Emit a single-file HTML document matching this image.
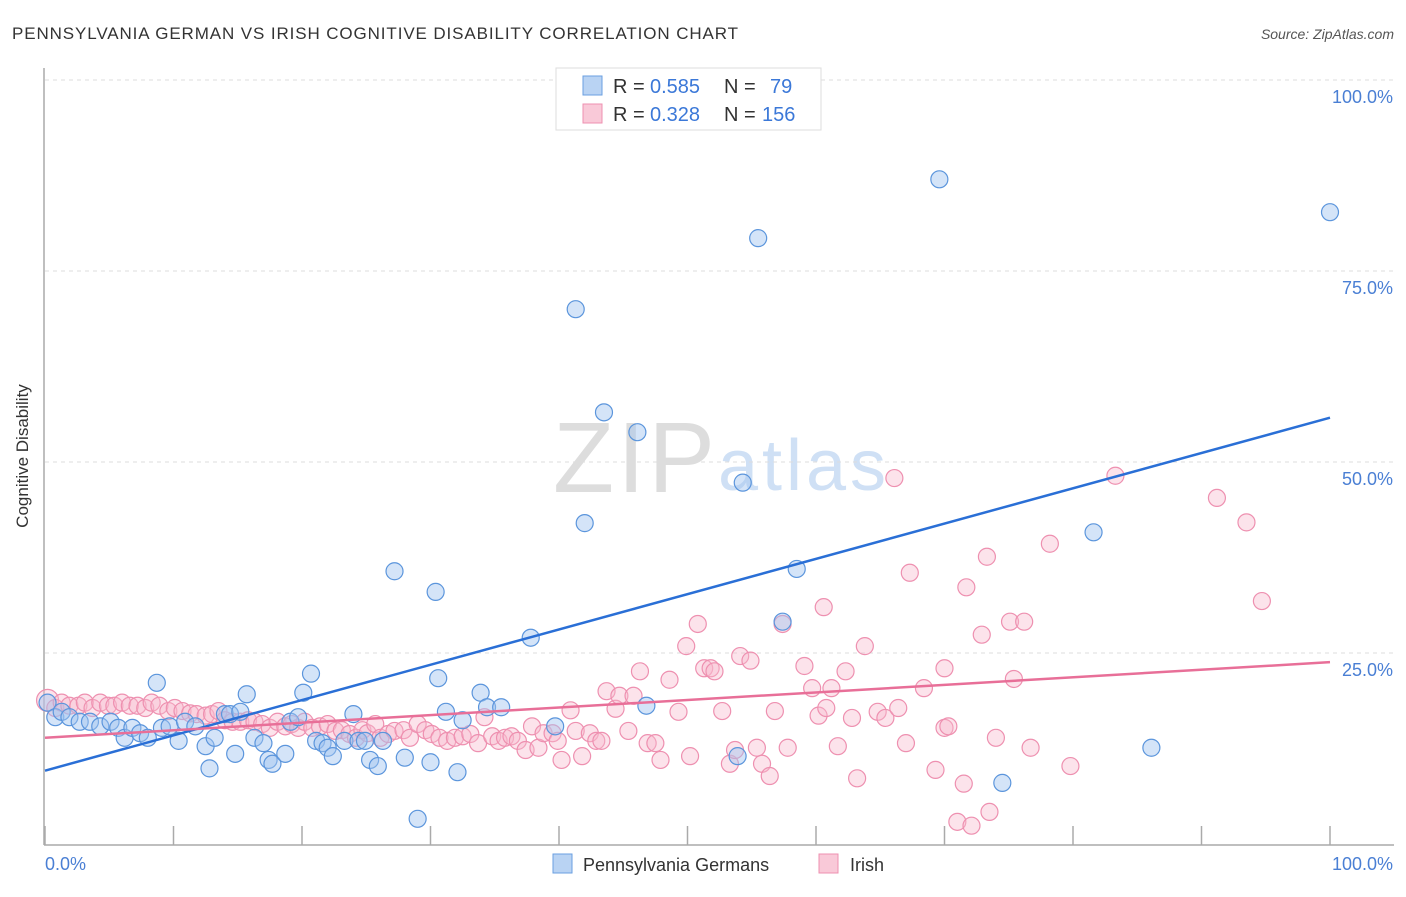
<!DOCTYPE html>
<html><head><meta charset="utf-8"><style>
body{margin:0;background:#fff;font-family:"Liberation Sans",sans-serif}
svg text{font-family:"Liberation Sans",sans-serif}
</style></head><body>
<svg width="1406" height="892" xmlns="http://www.w3.org/2000/svg">
<text x="12" y="39" font-size="17" fill="#333" textLength="726">PENNSYLVANIA GERMAN VS IRISH COGNITIVE DISABILITY CORRELATION CHART</text>
<text x="1394" y="39" font-size="14" fill="#555" font-style="italic" text-anchor="end">Source: ZipAtlas.com</text>
<text x="553" y="492" font-size="100" fill="#ddd" font-family="Liberation Serif" textLength="162">ZIP</text>
<text x="718" y="490" font-size="72" fill="#cfe0f5" textLength="168">atlas</text>
<g id="grid"></g>
<line x1="44" y1="68" x2="44" y2="845" stroke="#aaa" stroke-width="1.5"/>
<line x1="44" y1="845" x2="1394" y2="845" stroke="#aaa" stroke-width="1.5"/>
<g id="ticks"></g>
<text x="28" y="456" font-size="17" fill="#333" text-anchor="middle" transform="rotate(-90 28 456)">Cognitive Disability</text>
<g id="pts"></g>
<g id="lines"></g>
<text x="45" y="870" font-size="18" fill="#4a7fd4">0.0%</text>
<text x="1393" y="870" font-size="18" fill="#4a7fd4" text-anchor="end">100.0%</text>
<g>
<rect x="556" y="68" width="265" height="62" fill="#fff" stroke="#ddd"/>
<rect x="583" y="76" width="19" height="19" fill="#b9d3f3" stroke="#6a9fe0"/>
<rect x="583" y="104" width="19" height="19" fill="#f9c9d8" stroke="#ee90b0"/>
<text x="613" y="93" font-size="20" fill="#333">R = <tspan x="650" fill="#3b78d8">0.585</tspan><tspan x="724">N = </tspan><tspan x="770" fill="#3b78d8">79</tspan></text>
<text x="613" y="121" font-size="20" fill="#333">R = <tspan x="650" fill="#3b78d8">0.328</tspan><tspan x="724">N = </tspan><tspan x="762" fill="#3b78d8">156</tspan></text>
</g>
<g>
<rect x="553" y="854" width="19" height="19" fill="#b9d3f3" stroke="#6a9fe0"/>
<text x="583" y="871" font-size="18" fill="#333">Pennsylvania Germans</text>
<rect x="819" y="854" width="19" height="19" fill="#f9c9d8" stroke="#ee90b0"/>
<text x="850" y="871" font-size="18" fill="#333">Irish</text>
</g>
</svg>
<script>
const yTicks=[25,50,75,100];
const yTickLabels=["25.0%","50.0%","75.0%","100.0%"];
const xTicks=[0,10,20,30,40,50,60,70,80,90,100];
const blueX=[0.2,0.8,1.3,1.9,2.7,3.5,4.3,5.1,5.7,6.2,6.8,7.4,8.0,8.7,9.1,9.7,10.4,10.9,11.7,12.5,12.8,13.2,14.0,14.4,14.8,15.2,15.7,16.3,17.0,17.4,17.7,18.7,19.1,19.7,20.1,20.7,21.1,21.6,22.0,22.4,23.3,24.0,24.4,24.9,25.3,25.9,26.3,27.2,28.0,29.0,30.0,30.4,30.6,31.2,32.1,32.5,33.9,34.4,35.5,37.8,39.7,41.3,42.0,43.5,46.1,46.8,53.9,54.3,55.5,57.4,58.5,69.6,74.5,81.6,86.1,100];
const blueY=[18.5,16.6,17.3,16.6,16.0,16.0,15.4,16.0,15.2,13.9,15.2,14.5,13.9,21.1,15.2,15.4,13.5,16.0,15.4,12.8,9.9,13.9,17.0,17.0,11.8,17.3,19.6,13.9,13.2,11.0,10.5,11.8,16.0,16.6,19.8,22.3,13.5,13.2,12.6,11.5,13.5,17.0,13.5,13.5,11.0,10.2,13.5,35.7,11.3,3.3,10.7,33.0,21.7,17.3,9.4,16.2,19.8,17.9,17.9,27.0,15.4,70.0,42.0,56.5,53.9,18.1,11.5,47.3,79.3,29.1,36.0,87.0,8.0,40.8,12.6,82.7];
const pinkX=[0.2,0.8,1.3,1.9,2.6,3.1,3.7,4.3,4.9,5.4,6.0,6.6,7.2,7.8,8.3,8.9,9.6,10.1,10.7,11.3,11.8,12.5,13.0,13.5,14.0,14.6,15.2,15.8,16.3,16.9,17.5,18.1,18.7,19.2,19.7,20.2,20.8,21.4,22.0,22.6,23.1,23.7,24.2,24.7,25.1,25.7,26.1,26.7,27.2,27.9,28.4,29.0,29.6,30.1,30.7,31.3,31.9,32.5,33.1,33.7,34.2,34.8,35.3,35.8,36.3,36.8,37.4,37.9,38.4,38.8,39.5,39.9,40.2,40.9,41.3,41.8,42.4,42.9,43.3,43.7,44.4,44.7,45.4,45.8,46.3,46.9,47.5,47.9,48.6,49.3,49.9,50.2,50.8,51.3,51.8,52.1,52.7,53.3,53.7,54.1,54.9,55.4,55.8,56.4,56.8,57.4,57.8,59.1,59.7,60.2,60.6,60.8,61.2,61.7,62.3,62.8,63.2,63.8,64.8,65.4,66.1,66.4,67.0,67.3,68.4,69.3,70.0,70.0,70.3,71.0,71.5,71.7,72.1,72.9,73.3,73.5,74.0,75.1,75.4,76.2,76.7,78.2,79.8,83.3,91.2,93.5,94.7];
const pinkY=[18.8,17.8,18.5,18.1,18.1,18.5,17.8,18.5,18.1,18.1,18.5,18.1,18.1,17.8,18.5,18.1,17.4,17.8,17.4,17.1,17.0,16.8,17.0,17.4,16.2,16.0,16.0,16.2,16.0,15.7,15.2,16.0,15.4,15.7,15.2,16.0,15.2,15.4,15.7,14.8,14.9,14.4,13.9,14.9,14.5,15.7,13.9,14.4,14.8,14.9,13.9,15.7,14.9,14.4,13.9,13.5,13.9,14.1,14.4,13.2,16.6,14.1,13.5,13.9,14.1,13.5,12.3,15.4,12.6,14.5,14.5,13.5,11.0,17.5,14.8,11.5,14.5,13.5,13.5,20.0,17.7,19.4,14.8,19.4,22.6,13.2,13.2,11.0,21.5,17.3,25.9,11.5,28.8,23.0,23.0,22.6,17.4,10.5,12.3,24.6,24.0,12.6,10.5,8.9,17.4,28.8,12.6,23.3,20.4,16.8,31.0,17.8,20.4,12.8,22.6,16.5,8.6,25.9,17.3,16.5,47.9,17.8,13.2,35.5,20.4,9.7,15.2,23.0,15.4,2.9,7.9,33.6,2.4,27.4,37.6,4.2,13.9,29.1,21.6,29.1,12.6,39.3,10.2,48.2,45.3,42.1,31.8];
const blueTrend=[9.6,55.8];
const pinkTrend=[13.9,23.8];
const NS="http://www.w3.org/2000/svg";
const sx=v=>45+v*12.85, sy=v=>844-v*7.64;
function mk(tag,attrs,parent){const e=document.createElementNS(NS,tag);for(const k in attrs)e.setAttribute(k,attrs[k]);parent.appendChild(e);return e;}
const grid=document.getElementById('grid');
yTicks.forEach((t,i)=>{
  const l=mk('line',{x1:45,x2:1394,y1:sy(t),y2:sy(t),stroke:'#ddd','stroke-dasharray':'4 4'},grid);
  
  
  const tx=mk('text',{x:1393,y:sy(t)+23,'font-size':18,fill:'#4a7fd4','text-anchor':'end'},grid);
  tx.textContent=yTickLabels[i];
  
  
});
const ticks=document.getElementById('ticks');
xTicks.forEach(t=>{
  const l=mk('line',{x1:sx(t),x2:sx(t),y1:826,y2:845,stroke:'#aaa','stroke-width':1.5},ticks);
  
  
});
const pts=document.getElementById('pts');
pinkX.forEach((x,i)=>{
  const c=mk('circle',{cx:sx(x),cy:sy(pinkY[i]),r:i==0?11:8.5,fill:'rgba(248,186,206,0.4)',stroke:'#ee90b0','stroke-width':1.2},pts);
  
  
});
blueX.forEach((x,i)=>{
  const c=mk('circle',{cx:sx(x),cy:sy(blueY[i]),r:8.5,fill:'rgba(160,196,240,0.45)',stroke:'#5b95dc','stroke-width':1.2},pts);
  
  
});
const lines=document.getElementById('lines');
const bl=mk('line',{x1:sx(0),y1:sy(blueTrend[0]),x2:sx(100),y2:sy(blueTrend[1]),stroke:'#2a6fd6','stroke-width':2.5},lines);


const pl=mk('line',{x1:sx(0),y1:sy(pinkTrend[0]),x2:sx(100),y2:sy(pinkTrend[1]),stroke:'#e86f98','stroke-width':2.5},lines);


</script>
</body></html>
